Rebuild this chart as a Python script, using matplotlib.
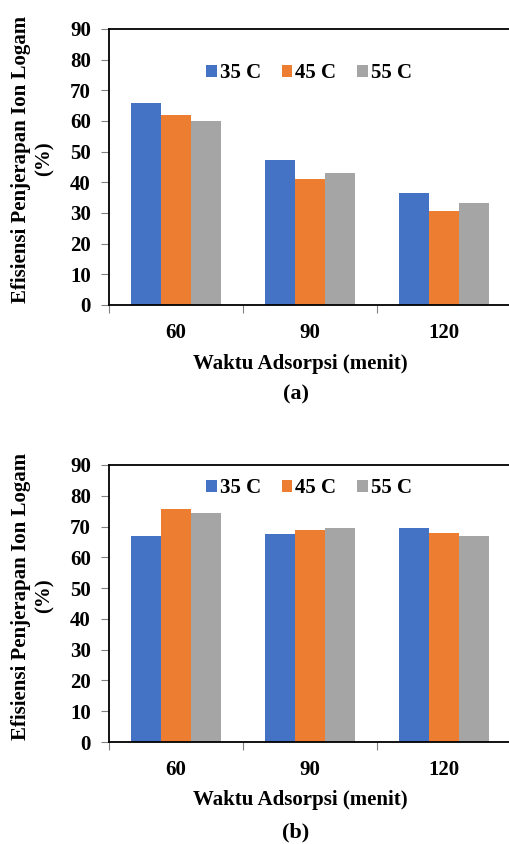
import numpy as np
import matplotlib.pyplot as plt

W, H = 509, 844

# Data
waktu = ["60", "90", "120"]
suhu = ["35 C", "45 C", "55 C"]
eff_a_35 = [65.8, 47.4, 36.5]
eff_a_45 = [62.1, 41.1, 30.6]
eff_a_55 = [59.9, 43.1, 33.2]
eff_b_35 = [66.8, 67.7, 69.4]
eff_b_45 = [75.6, 69.0, 68.0]
eff_b_55 = [74.3, 69.4, 66.8]

colors = ["#4472C4", "#ED7D31", "#A5A5A5"]

plt.rcParams["font.family"] = ["Liberation Serif", "DejaVu Serif"]
plt.rcParams["font.weight"] = "bold"

FS = 15

fig = plt.figure(figsize=(W / 100, H / 100), dpi=100)


def px_axes(left, top, right, bottom):
    return fig.add_axes([left / W, 1 - bottom / H, (right - left) / W, (bottom - top) / H])


def draw_panel(ax, series, tag, y_xtick, y_xlabel, y_tag, y_ylabel, y_leg):
    x = np.arange(len(waktu))
    w = 0.225
    for i, (vals, lab) in enumerate(zip(series, suhu)):
        ax.bar(x + (i - 1) * w, vals, width=w, color=colors[i], label=lab, zorder=2)

    ax.set_xlim(-0.5, 2.5)
    ax.set_ylim(0, 90)
    ax.set_yticks(np.arange(0, 91, 10))
    ax.tick_params(axis="y", direction="out", length=6, width=0.8, color="#808080",
                   labelsize=FS, pad=7)
    ax.set_xticks(x)
    ax.set_xticklabels([])
    ax.tick_params(axis="x", which="major", length=0)
    ax.set_xticks([-0.5, 0.5, 1.5, 2.5], minor=True)
    ax.tick_params(axis="x", which="minor", direction="out", length=6, width=0.8, color="#808080")
    for lbl in ax.get_yticklabels():
        lbl.set_fontweight("bold")

    for s in ["left", "top", "bottom"]:
        ax.spines[s].set_linewidth(1.3)
    ax.spines["right"].set_visible(False)

    # category labels under the axis
    for xi, t in zip(x, waktu):
        px = ax.transData.transform((xi, 0))[0]
        fig.text(px / W, 1 - y_xtick / H, t, ha="center", va="center",
                 fontsize=FS, fontweight="bold")

    fig.text(300 / W, 1 - y_xlabel / H, "Waktu Adsorpsi (menit)", ha="center", va="center",
             fontsize=FS, fontweight="bold")
    fig.text(296 / W, 1 - y_tag / H, tag, ha="center", va="center",
             fontsize=16, fontweight="bold")
    fig.text(33 / W, 1 - y_ylabel / H, "Efisiensi Penjerapan Ion Logam\n(%)", ha="center",
             va="center", rotation=90, fontsize=FS, fontweight="bold", linespacing=1.25,
             multialignment="center")

    ax.legend(loc="center", bbox_to_anchor=(309 / W, 1 - y_leg / H),
              bbox_transform=fig.transFigure, ncol=3, frameon=False,
              prop={"size": FS, "weight": "bold"}, handlelength=0.5, handleheight=0.5,
              handletextpad=0.15, columnspacing=1.0, borderpad=0)


ax1 = px_axes(109, 29, 511, 305)
ax2 = px_axes(109, 465, 511, 742)

draw_panel(ax1, [eff_a_35, eff_a_45, eff_a_55], "(a)", 333, 364, 394, 159, 73)
draw_panel(ax2, [eff_b_35, eff_b_45, eff_b_55], "(b)", 770, 800, 832, 596, 488)

fig.savefig("out.png", dpi=100)
